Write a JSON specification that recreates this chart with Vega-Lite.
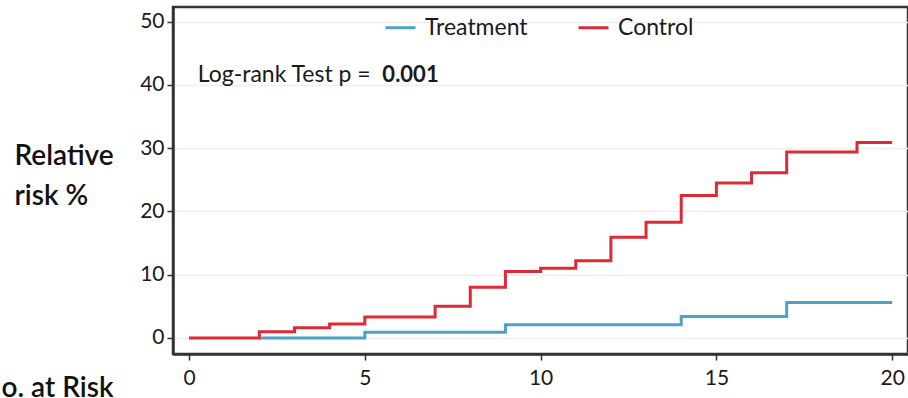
{
  "$schema": "https://vega.github.io/schema/vega-lite/v6.json",
  "autosize": "none",
  "width": 735,
  "height": 347,
  "padding": {"left": 173, "top": 7, "right": 0, "bottom": 44},
  "background": "white",
  "config": {
    "font": "Lato",
    "view": {"stroke": "#333333", "strokeWidth": 2.5},
    "axis": {
      "domainColor": "#333333",
      "domainWidth": 2.5,
      "tickColor": "#333333",
      "tickWidth": 1.5,
      "labelFont": "Lato",
      "labelColor": "#1a1a1a",
      "labelFontSize": 21,
      "titleFont": "Lato",
      "titleColor": "#111111"
    }
  },
  "datasets": {
    "curves": [
      {"group": "Treatment", "t": 2, "risk": 0},
      {"group": "Treatment", "t": 5, "risk": 0.9},
      {"group": "Treatment", "t": 9, "risk": 2.1},
      {"group": "Treatment", "t": 14, "risk": 3.4},
      {"group": "Treatment", "t": 17, "risk": 5.6},
      {"group": "Treatment", "t": 20, "risk": 5.6},
      {"group": "Control", "t": 0, "risk": 0},
      {"group": "Control", "t": 2, "risk": 1.0},
      {"group": "Control", "t": 3, "risk": 1.6},
      {"group": "Control", "t": 4, "risk": 2.2},
      {"group": "Control", "t": 5, "risk": 3.3},
      {"group": "Control", "t": 7, "risk": 5.0},
      {"group": "Control", "t": 8, "risk": 8.0},
      {"group": "Control", "t": 9, "risk": 10.5},
      {"group": "Control", "t": 10, "risk": 11.0},
      {"group": "Control", "t": 11, "risk": 12.2},
      {"group": "Control", "t": 12, "risk": 15.9},
      {"group": "Control", "t": 13, "risk": 18.3},
      {"group": "Control", "t": 14, "risk": 22.5},
      {"group": "Control", "t": 15, "risk": 24.5},
      {"group": "Control", "t": 16, "risk": 26.1},
      {"group": "Control", "t": 17, "risk": 29.4},
      {"group": "Control", "t": 19, "risk": 30.9},
      {"group": "Control", "t": 20, "risk": 30.9}
    ],
    "note": [
      {"part": "plain", "label": "Log-rank Test p =", "t": 0.25, "risk": 41.5},
      {"part": "bold", "label": "0.001", "t": 5.5, "risk": 41.5}
    ]
  },
  "layer": [
    {
      "data": {"name": "curves"},
      "layer": [
        {"transform": [{"filter": "datum.group === 'Treatment'"}], "mark": {"type": "line", "interpolate": "step-after", "strokeWidth": 3}},
        {"transform": [{"filter": "datum.group === 'Control'"}], "mark": {"type": "line", "interpolate": "step-after", "strokeWidth": 3}}
      ],
      "encoding": {
        "x": {
          "field": "t",
          "type": "quantitative",
          "scale": {"domain": [-0.455, 20.45], "nice": false, "zero": false},
          "axis": {
            "values": [0, 5, 10, 15, 20],
            "grid": false,
            "tickSize": 6,
            "labelPadding": 7,
            "title": "No. at Risk",
            "titleFontSize": 28,
            "titleFontWeight": 600,
            "titleAnchor": "start",
            "titleAlign": "right",
            "titleBaseline": "alphabetic",
            "titleX": -60,
            "titleY": 42
          }
        },
        "y": {
          "field": "risk",
          "type": "quantitative",
          "scale": {"domain": [-2.53, 52.3], "nice": false, "zero": false},
          "axis": {
            "values": [0, 10, 20, 30, 40, 50],
            "grid": true,
            "gridColor": "#eeeeee",
            "gridWidth": 1.5,
            "tickSize": 6,
            "labelPadding": 3,
            "title": ["Relative", "risk %"],
            "titleFontSize": 28,
            "titleFontWeight": 600,
            "titleAngle": 0,
            "titleAlign": "left",
            "titleBaseline": "alphabetic",
            "titleLineHeight": 40,
            "titleX": -159,
            "titleY": 157
          }
        },
        "color": {
          "field": "group",
          "type": "nominal",
          "scale": {"domain": ["Treatment", "Control"], "range": ["#4aa2c6", "#dc2b36"]},
          "legend": {
            "title": null,
            "orient": "none",
            "direction": "horizontal",
            "legendX": 211,
            "legendY": 4,
            "symbolType": "stroke",
            "symbolSize": 900,
            "symbolStrokeWidth": 3,
            "labelFontSize": 23,
            "labelColor": "#1a1a1a",
            "labelOffset": 8,
            "columnPadding": 44,
            "padding": 0
          }
        }
      }
    },
    {
      "data": {"name": "note"},
      "transform": [{"filter": "datum.part === 'plain'"}],
      "mark": {"type": "text", "align": "left", "baseline": "middle", "fontSize": 23, "color": "#1a1a1a", "font": "Lato"},
      "encoding": {
        "x": {"field": "t", "type": "quantitative"},
        "y": {"field": "risk", "type": "quantitative"},
        "text": {"field": "label"}
      }
    },
    {
      "data": {"name": "note"},
      "transform": [{"filter": "datum.part === 'bold'"}],
      "mark": {"type": "text", "align": "left", "baseline": "middle", "fontSize": 22, "fontWeight": "bold", "color": "#1a1a1a", "font": "Lato"},
      "encoding": {
        "x": {"field": "t", "type": "quantitative"},
        "y": {"field": "risk", "type": "quantitative"},
        "text": {"field": "label"}
      }
    }
  ]
}
